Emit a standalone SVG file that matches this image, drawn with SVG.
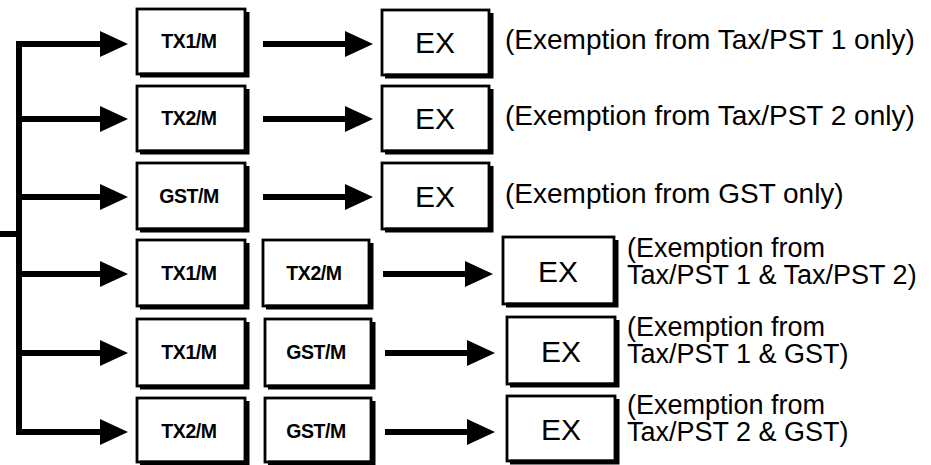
<svg xmlns="http://www.w3.org/2000/svg" width="931" height="465" viewBox="0 0 931 465">
<defs>
<marker id="ah" markerUnits="userSpaceOnUse" markerWidth="30" markerHeight="26" refX="7" refY="13" orient="auto"><path d="M0,0 L28,13 L0,26 Z" fill="#000"/></marker>
</defs>
<style>
.bx{fill:#fff;stroke:#000;stroke-width:2.8}
.sh{fill:none;stroke:#000;stroke-width:5}
.ln{fill:none;stroke:#000;stroke-width:6}
.lbl{font-family:"Liberation Sans",Arial,sans-serif;font-weight:bold;font-size:19.5px;letter-spacing:-0.4px;text-anchor:middle}
.ex{font-family:"Liberation Sans",Arial,sans-serif;font-size:30px;text-anchor:middle}
.ds{font-family:"Liberation Sans",Arial,sans-serif;font-size:28px}
.ds2{font-family:"Liberation Sans",Arial,sans-serif;font-size:27px}
</style>
<rect width="931" height="465" fill="#fff"/>
<g id="connectors">
<path class="ln" d="M0,234 H19 M19,42 V432"/>
<path class="ln" d="M16,44 H107" marker-end="url(#ah)"/>
<path class="ln" d="M19,119 H107" marker-end="url(#ah)"/>
<path class="ln" d="M19,197 H107" marker-end="url(#ah)"/>
<path class="ln" d="M19,274 H107" marker-end="url(#ah)"/>
<path class="ln" d="M19,353 H107" marker-end="url(#ah)"/>
<path class="ln" d="M16,432 H107" marker-end="url(#ah)"/>
<path class="ln" d="M263,44 H352" marker-end="url(#ah)"/>
<path class="ln" d="M263,119 H352" marker-end="url(#ah)"/>
<path class="ln" d="M263,197 H352" marker-end="url(#ah)"/>
<path class="ln" d="M383,274 H472" marker-end="url(#ah)"/>
<path class="ln" d="M385,353 H474" marker-end="url(#ah)"/>
<path class="ln" d="M385,432 H474" marker-end="url(#ah)"/>
</g>
<g id="r1a"><rect class="bx" x="137" y="9" width="108" height="65"/><path class="sh" d="M140,75 H247 V12"/><text class="lbl" x="189" y="48">TX1/M</text></g>
<g id="r2a"><rect class="bx" x="137" y="86" width="108" height="65"/><path class="sh" d="M140,152 H247 V89"/><text class="lbl" x="189" y="125">TX2/M</text></g>
<g id="r3a"><rect class="bx" x="137" y="163" width="108" height="66"/><path class="sh" d="M140,230 H247 V166"/><text class="lbl" x="189" y="203">GST/M</text></g>
<g id="r4a"><rect class="bx" x="137" y="240" width="108" height="66"/><path class="sh" d="M140,307 H247 V243"/><text class="lbl" x="189" y="280">TX1/M</text></g>
<g id="r5a"><rect class="bx" x="137" y="319" width="108" height="67"/><path class="sh" d="M140,387 H247 V322"/><text class="lbl" x="189" y="359">TX1/M</text></g>
<g id="r6a"><rect class="bx" x="137" y="398" width="108" height="64"/><path class="sh" d="M140,463 H247 V401"/><text class="lbl" x="189" y="438">TX2/M</text></g>
<g id="r4b"><rect class="bx" x="263" y="240" width="106" height="66"/><path class="sh" d="M266,307 H371 V243"/><text class="lbl" x="314" y="280">TX2/M</text></g>
<g id="r5b"><rect class="bx" x="265" y="319" width="106" height="67"/><path class="sh" d="M268,387 H373 V322"/><text class="lbl" x="316" y="359">GST/M</text></g>
<g id="r6b"><rect class="bx" x="265" y="398" width="106" height="64"/><path class="sh" d="M268,463 H373 V401"/><text class="lbl" x="316" y="438">GST/M</text></g>
<g id="r1ex"><rect class="bx" x="382" y="10" width="107" height="65"/><path class="sh" d="M385,76 H491 V13"/><text class="ex" x="435" y="53">EX</text></g>
<g id="r2ex"><rect class="bx" x="382" y="86" width="107" height="65"/><path class="sh" d="M385,152 H491 V89"/><text class="ex" x="435" y="129">EX</text></g>
<g id="r3ex"><rect class="bx" x="382" y="163" width="107" height="66"/><path class="sh" d="M385,230 H491 V166"/><text class="ex" x="435" y="207">EX</text></g>
<g id="r4ex"><rect class="bx" x="503" y="237" width="111" height="67"/><path class="sh" d="M506,305 H616 V240"/><text class="ex" x="558" y="282">EX</text></g>
<g id="r5ex"><rect class="bx" x="507" y="317" width="108" height="67"/><path class="sh" d="M510,385 H617 V320"/><text class="ex" x="561" y="362">EX</text></g>
<g id="r6ex"><rect class="bx" x="507" y="396" width="108" height="65"/><path class="sh" d="M510,462 H617 V399"/><text class="ex" x="561" y="440">EX</text></g>
<g id="desc">
<text class="ds" x="505" y="49">(Exemption from Tax/PST 1 only)</text>
<text class="ds" x="505" y="125">(Exemption from Tax/PST 2 only)</text>
<text class="ds" x="505" y="203">(Exemption from GST only)</text>
<text class="ds2" x="627" y="257">(Exemption from</text>
<text class="ds2" x="627" y="284">Tax/PST 1 &amp; Tax/PST 2)</text>
<text class="ds2" x="627" y="336">(Exemption from</text>
<text class="ds2" x="627" y="363">Tax/PST 1 &amp; GST)</text>
<text class="ds2" x="627" y="414">(Exemption from</text>
<text class="ds2" x="627" y="441">Tax/PST 2 &amp; GST)</text>
</g>
</svg>
